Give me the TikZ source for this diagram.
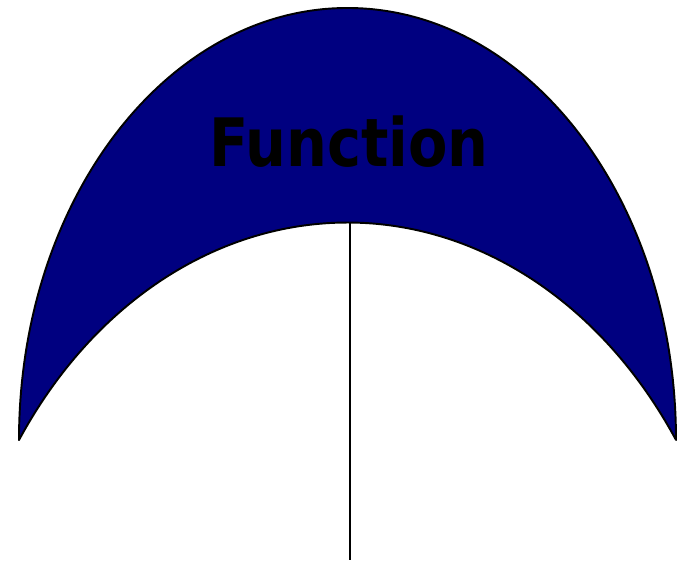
\documentclass[tikz,border=0pt]{standalone}
\usepackage{fontspec}
\newfontfamily\lblfont{DejaVu Sans}
\usepackage{tikz}
\usetikzlibrary{positioning}
\definecolor{archnavy}{RGB}{0,0,128}
\tikzset{
  archfill/.style={fill=archnavy,draw=black,line width=1.1pt,line join=round},
  stemline/.style={draw=black,line width=1.3pt},
  archlbl/.style={font=\lblfont\bfseries\fontsize{38}{40}\selectfont,
    text=black,inner sep=0pt,anchor=base,xscale=0.86,transform shape},
}
\begin{document}
\begin{tikzpicture}[x=0.02cm,y=0.02cm]
  \useasboundingbox (0,0) rectangle (680,563);
  % the arch: outer half-ellipse, then the inner one back
  \coordinate (tipl) at (19,123);
  \coordinate (tipr) at (676,123);
  \coordinate (crown) at (350,341);
  \coordinate (foot) at (350,3);
  \path[archfill] (tipl) arc[start angle=180,end angle=0,
      x radius=328.5,y radius=432]
    -- (tipr) arc[start angle=33.73,end angle=146.27,
      x radius=395,y radius=489] -- cycle;
  \draw[stemline] (crown) -- (foot);
  \node[archlbl] (title) at (349,396) {Function};
\end{tikzpicture}
\end{document}
